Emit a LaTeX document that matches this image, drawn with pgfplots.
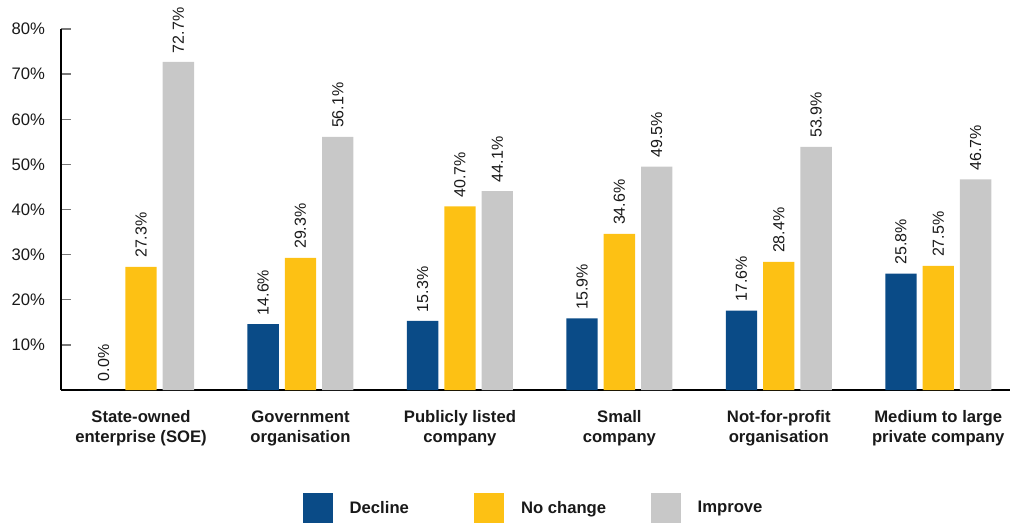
\documentclass[border=0pt]{standalone}
\usepackage{pgfplots}
\pgfplotsset{compat=1.18}
\usepackage{fontspec}
\setmainfont{Liberation Sans}
\definecolor{cblue}{RGB}{10,75,135}
\definecolor{cyellow}{RGB}{253,193,20}
\definecolor{cgrey}{RGB}{200,200,200}
\definecolor{ctext}{RGB}{25,25,25}
\definecolor{ctick}{RGB}{120,120,120}

\begin{document}
\begin{tikzpicture}
\begin{axis}[
  scale only axis,
  width=711.75pt, height=270.75pt,
  ymin=0, ymax=80,
  xmin=-0.502, xmax=5.45,
  ybar=4.5pt, bar width=23.5pt,
  axis x line*=bottom, axis y line*=left,
  axis line style={line width=1.1pt, -, black},
  ytick={10,20,30,40,50,60,70,80},
  yticklabel={\pgfmathprintnumber{\tick}\%},
  yticklabel style={font=\fontsize{12.5}{14}\selectfont, text=ctext, xshift=-8.5pt},
  tick align=inside,
  major tick length=7.5pt,
  ytick style={draw=ctick, line width=1pt},
  xtick={0,1,2,3,4,5},
  xticklabels={{State-owned\\enterprise (SOE)},{Government\\organisation},{Publicly listed\\company},{Small\\company},{Not-for-profit\\organisation},{Medium to large\\private company}},
  xticklabel style={align=center, font=\fontsize{12.5}{14.8}\selectfont\bfseries, text=ctext, yshift=-12pt},
  xtick style={draw=none},
  /pgf/number format/assume math mode=true,
  nodes near coords={\pgfmathprintnumber[fixed,fixed zerofill,precision=1]{\pgfplotspointmeta}\%},
  every node near coord/.append style={rotate=90, anchor=west, font=\fontsize{12}{14}\selectfont, text=ctext, inner xsep=6.5pt, inner ysep=0pt},
  legend columns=3,
  legend style={draw=none, at={(0.5065,-0.327)}, anchor=center, font=\fontsize{12.5}{14}\selectfont\bfseries, text=ctext, column sep=0pt,
    /tikz/every even column/.append style={column sep=0pt}},
  legend image code/.code={\fill[#1] (0pt,-11.25pt) rectangle (22.5pt,11.25pt);},
]
\coordinate (bl) at (rel axis cs:0,0);
\addplot[fill=cblue, draw=none] coordinates {(0,0.0) (1,14.6) (2,15.3) (3,15.9) (4,17.6) (5,25.8)};
\addplot[fill=cyellow, draw=none] coordinates {(0,27.3) (1,29.3) (2,40.7) (3,34.6) (4,28.4) (5,27.5)};
\addplot[fill=cgrey, draw=none] coordinates {(0,72.7) (1,56.1) (2,44.1) (3,49.5) (4,53.9) (5,46.7)};
\legend{\hspace*{10.5pt}\makebox[91.5pt][l]{Decline},\hspace*{10.5pt}\makebox[95.5pt][l]{No change},\hspace*{10.5pt}\makebox[60pt][l]{Improve}}
\end{axis}
\pgfresetboundingbox
\path (bl) ++(-45.75pt,-99pt) rectangle ++(757.5pt,391.5pt);
\end{tikzpicture}
\end{document}
